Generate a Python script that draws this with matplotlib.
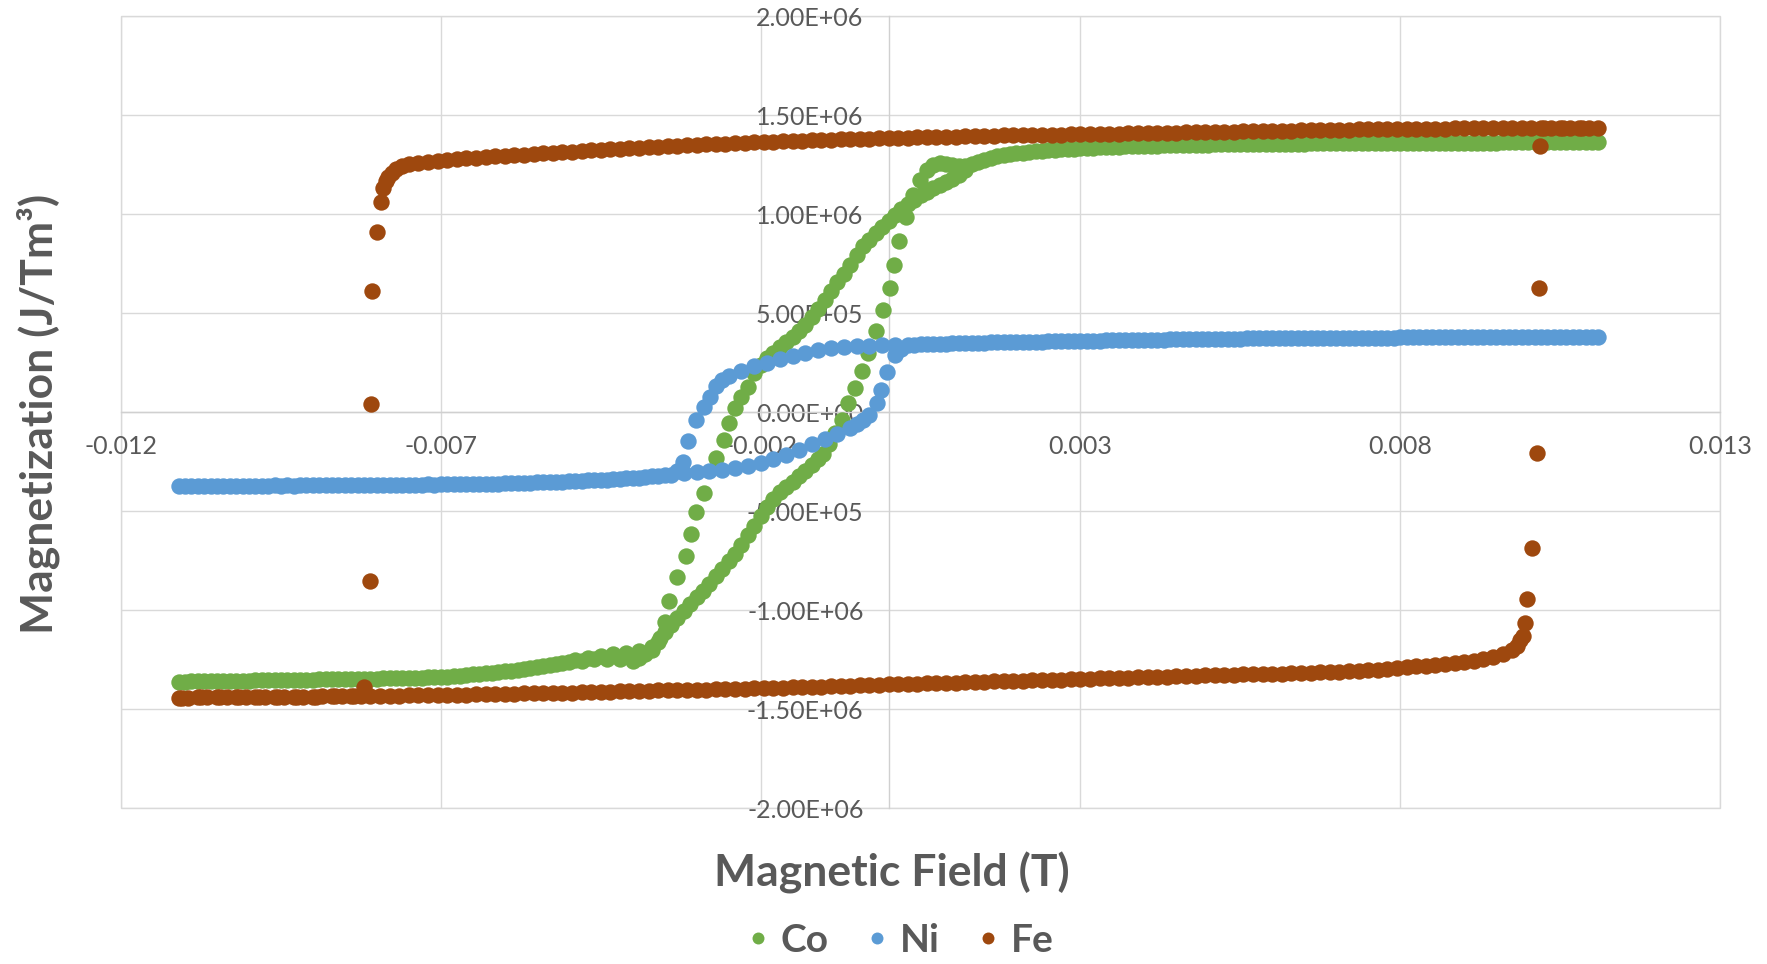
import numpy as np
import matplotlib
matplotlib.use("Agg")
import matplotlib.pyplot as plt
from matplotlib.lines import Line2D
from matplotlib.patches import Rectangle

plt.rcParams['font.family'] = ['Lato', 'DejaVu Sans']

# (field in mT, magnetization in 1e3 J/Tm^3)
co_desc = [
    (11.1, 1365), (10.9, 1365), (10.7, 1364), (10.5, 1364), (10.3, 1364), (10.1, 1363), (9.9, 1363), (9.7, 1363),
    (9.5, 1362), (9.3, 1362), (9.1, 1362), (8.9, 1362), (8.7, 1361), (8.5, 1361), (8.3, 1361), (8.1, 1360),
    (7.9, 1360), (7.7, 1360), (7.5, 1359), (7.3, 1359), (7.1, 1359), (6.9, 1358), (6.7, 1358), (6.5, 1357),
    (6.3, 1357), (6.1, 1356), (5.9, 1356), (5.7, 1355), (5.5, 1354), (5.3, 1353), (5.1, 1353), (4.9, 1352),
    (4.7, 1350), (4.5, 1349), (4.3, 1348), (4.1, 1346), (3.9, 1345), (3.7, 1343), (3.5, 1341), (3.3, 1338),
    (3.1, 1335), (2.9, 1332), (2.7, 1328), (2.5, 1324), (2.3, 1319), (2.1, 1312), (1.9, 1304), (1.7, 1292),
    (1.5, 1275), (1.3, 1252), (1.2, 1222), (1.1, 1197), (1.0, 1180), (0.9, 1165), (0.8, 1148), (0.7, 1132),
    (0.6, 1115), (0.5, 1095), (0.4, 1074), (0.3, 1050), (0.2, 1025), (0.1, 998), (0.0, 965), (-0.1, 935),
    (-0.2, 905), (-0.3, 870), (-0.4, 838), (-0.5, 795), (-0.6, 745), (-0.7, 700), (-0.8, 660), (-0.9, 615),
    (-1.0, 568), (-1.1, 522), (-1.2, 480), (-1.3, 443), (-1.4, 410), (-1.5, 380), (-1.6, 355), (-1.7, 331),
    (-1.8, 300), (-1.9, 272), (-2.0, 240), (-2.1, 200), (-2.19, 129), (-2.3, 79), (-2.4, 20), (-2.49, -52),
    (-2.58, -140), (-2.7, -232), (-2.88, -409), (-3.01, -505), (-3.09, -615), (-3.16, -726), (-3.31, -833),
    (-3.43, -953), (-3.49, -1061), (-3.58, -1140), (-3.7, -1185), (-3.9, -1205), (-4.1, -1215), (-4.3, -1220),
    (-4.5, -1230), (-4.7, -1240), (-4.9, -1250), (-5.1, -1265), (-5.3, -1276), (-5.5, -1287), (-5.7, -1297),
    (-5.9, -1305), (-6.1, -1312), (-6.3, -1318), (-6.5, -1324), (-6.7, -1330), (-6.9, -1335), (-7.1, -1338),
    (-7.3, -1340), (-7.5, -1342), (-7.7, -1343), (-7.9, -1344), (-8.1, -1345), (-8.3, -1346), (-8.5, -1347),
    (-8.7, -1348), (-8.9, -1349), (-9.1, -1350), (-9.3, -1351), (-9.5, -1352), (-9.7, -1353), (-9.9, -1354),
    (-10.1, -1355), (-10.3, -1356), (-10.5, -1357), (-10.7, -1358), (-10.9, -1359), (-11.1, -1361),
]
co_asc = [
    (-11.0, -1360), (-10.8, -1359), (-10.6, -1358), (-10.4, -1357), (-10.2, -1356), (-10.0, -1355), (-9.8, -1354),
    (-9.6, -1353), (-9.4, -1352), (-9.2, -1351), (-9.0, -1350), (-8.8, -1349), (-8.6, -1348), (-8.4, -1347),
    (-8.2, -1346), (-8.0, -1345), (-7.8, -1344), (-7.6, -1343), (-7.4, -1341), (-7.2, -1339), (-7.0, -1337),
    (-6.8, -1333), (-6.6, -1328), (-6.4, -1322), (-6.2, -1316), (-6.0, -1309), (-5.8, -1301), (-5.6, -1292),
    (-5.4, -1282), (-5.2, -1272), (-5.0, -1263), (-4.8, -1255), (-4.6, -1248), (-4.4, -1244), (-4.2, -1248),
    (-4.0, -1254), (-3.9, -1240), (-3.8, -1222), (-3.7, -1198), (-3.6, -1160), (-3.5, -1112), (-3.4, -1075),
    (-3.3, -1040), (-3.2, -1005), (-3.1, -970), (-3.0, -931), (-2.9, -900), (-2.8, -866), (-2.7, -826),
    (-2.6, -790), (-2.5, -752), (-2.4, -715), (-2.3, -668), (-2.2, -620), (-2.1, -572), (-2.0, -525),
    (-1.9, -477), (-1.8, -437), (-1.7, -405), (-1.6, -378), (-1.5, -352), (-1.4, -322), (-1.3, -295),
    (-1.2, -266), (-1.1, -237), (-1.02, -210), (-0.93, -160), (-0.84, -106), (-0.73, -39), (-0.63, 45),
    (-0.52, 121), (-0.42, 210), (-0.32, 298), (-0.2, 411), (-0.09, 517), (0.02, 626), (0.09, 744), (0.17, 867),
    (0.27, 988), (0.39, 1097), (0.49, 1173), (0.6, 1224), (0.7, 1248), (0.8, 1258), (0.9, 1255), (1.0, 1249),
    (1.1, 1244), (1.2, 1242), (1.4, 1262), (1.6, 1285), (1.8, 1299), (2.0, 1309), (2.2, 1316), (2.4, 1322),
    (2.6, 1327), (2.8, 1331), (3.0, 1334), (3.2, 1337), (3.4, 1340), (3.6, 1342), (3.8, 1344), (4.0, 1346),
    (4.2, 1347), (4.4, 1349), (4.6, 1350), (4.8, 1351), (5.0, 1352), (5.2, 1353), (5.4, 1354), (5.6, 1355),
    (5.8, 1355), (6.0, 1356), (6.2, 1357), (6.4, 1357), (6.6, 1358), (6.8, 1358), (7.0, 1359), (7.2, 1359),
    (7.4, 1359), (7.6, 1360), (7.8, 1360), (8.0, 1360), (8.2, 1361), (8.4, 1361), (8.6, 1361), (8.8, 1362),
    (9.0, 1362), (9.2, 1362), (9.4, 1362), (9.6, 1363), (9.8, 1363), (10.0, 1363), (10.2, 1364), (10.4, 1364),
    (10.6, 1364), (10.8, 1365), (11.0, 1365),
]

ni_desc = [
    (11.1, 381), (10.9, 381), (10.7, 381), (10.5, 380), (10.3, 380), (10.1, 380), (9.9, 380), (9.7, 380),
    (9.5, 379), (9.3, 379), (9.1, 379), (8.9, 379), (8.7, 378), (8.5, 378), (8.3, 378), (8.1, 378),
    (7.9, 377), (7.7, 377), (7.5, 377), (7.3, 376), (7.1, 376), (6.9, 376), (6.7, 375), (6.5, 375),
    (6.3, 374), (6.1, 374), (5.9, 373), (5.7, 373), (5.5, 372), (5.3, 371), (5.1, 371), (4.9, 370),
    (4.7, 369), (4.5, 368), (4.3, 367), (4.1, 366), (3.9, 365), (3.7, 364), (3.5, 363), (3.3, 362),
    (3.1, 361), (2.9, 360), (2.7, 359), (2.5, 358), (2.3, 357), (2.1, 355), (1.9, 354), (1.7, 353),
    (1.5, 351), (1.3, 350), (1.1, 348), (0.9, 347), (0.7, 345), (0.5, 344), (0.3, 342), (0.1, 340),
    (-0.1, 338), (-0.3, 336), (-0.5, 333), (-0.7, 330), (-0.9, 325), (-1.1, 316), (-1.3, 300), (-1.5, 285),
    (-1.7, 268), (-1.9, 250), (-2.1, 232), (-2.3, 210), (-2.5, 185), (-2.6, 165), (-2.7, 135), (-2.79, 79),
    (-2.88, 28), (-3.01, -39), (-3.13, -143), (-3.22, -249), (-3.31, -295), (-3.5, -318), (-3.7, -324),
    (-3.9, -330), (-4.1, -334), (-4.3, -338), (-4.5, -341), (-4.7, -344), (-4.9, -347), (-5.1, -350),
    (-5.3, -352), (-5.5, -354), (-5.7, -356), (-5.9, -358), (-6.1, -360), (-6.3, -361), (-6.5, -362),
    (-6.7, -363), (-6.9, -364), (-7.1, -365), (-7.3, -365), (-7.5, -366), (-7.7, -366), (-7.9, -367),
    (-8.1, -367), (-8.3, -368), (-8.5, -368), (-8.7, -369), (-8.9, -369), (-9.1, -369), (-9.3, -370),
    (-9.5, -370), (-9.7, -370), (-9.9, -370), (-10.1, -371), (-10.3, -371), (-10.5, -371), (-10.7, -371),
    (-10.9, -371), (-11.1, -372),
]
ni_asc = [
    (-11.0, -371), (-10.8, -371), (-10.6, -371), (-10.4, -370), (-10.2, -370), (-10.0, -370), (-9.8, -370),
    (-9.6, -369), (-9.4, -369), (-9.2, -369), (-9.0, -368), (-8.8, -368), (-8.6, -368), (-8.4, -367),
    (-8.2, -367), (-8.0, -366), (-7.8, -366), (-7.6, -365), (-7.4, -365), (-7.2, -364), (-7.0, -364),
    (-6.8, -363), (-6.6, -362), (-6.4, -361), (-6.2, -360), (-6.0, -359), (-5.8, -357), (-5.6, -355),
    (-5.4, -353), (-5.2, -351), (-5.0, -349), (-4.8, -346), (-4.6, -343), (-4.4, -340), (-4.2, -336),
    (-4.0, -332), (-3.8, -327), (-3.6, -322), (-3.4, -316), (-3.2, -309), (-3.0, -303), (-2.8, -297),
    (-2.6, -290), (-2.4, -283), (-2.2, -271), (-2.0, -256), (-1.8, -237), (-1.6, -215), (-1.4, -190),
    (-1.2, -162), (-1.0, -135), (-0.8, -108), (-0.6, -80), (-0.5, -58), (-0.4, -38), (-0.3, -15),
    (-0.18, 45), (-0.11, 113), (-0.02, 205), (0.1, 289), (0.2, 320), (0.4, 338), (0.6, 343), (0.8, 346),
    (1.0, 349), (1.2, 350), (1.4, 351), (1.6, 353), (1.8, 354), (2.0, 355), (2.2, 356), (2.4, 357),
    (2.6, 358), (2.8, 360), (3.0, 361), (3.2, 362), (3.4, 363), (3.6, 364), (3.8, 365), (4.0, 366),
    (4.2, 367), (4.4, 368), (4.6, 369), (4.8, 370), (5.0, 371), (5.2, 371), (5.4, 372), (5.6, 373),
    (5.8, 373), (6.0, 374), (6.2, 374), (6.4, 375), (6.6, 375), (6.8, 376), (7.0, 376), (7.2, 376),
    (7.4, 377), (7.6, 377), (7.8, 377), (8.0, 378), (8.2, 378), (8.4, 378), (8.6, 379), (8.8, 379),
    (9.0, 379), (9.2, 379), (9.4, 380), (9.6, 380), (9.8, 380), (10.0, 380), (10.2, 380), (10.4, 381),
    (10.6, 381), (10.8, 381), (11.0, 381),
]

fe_desc = [
    (11.1, 1438), (10.95, 1438), (10.8, 1437), (10.65, 1437), (10.5, 1437), (10.35, 1436), (10.2, 1436),
    (10.05, 1436), (9.9, 1436), (9.75, 1435), (9.6, 1435), (9.45, 1435), (9.3, 1434), (9.15, 1434),
    (9.0, 1434), (8.85, 1434), (8.7, 1433), (8.55, 1433), (8.4, 1432), (8.25, 1432), (8.1, 1431),
    (7.95, 1431), (7.8, 1430), (7.65, 1430), (7.5, 1429), (7.35, 1429), (7.2, 1428), (7.05, 1427),
    (6.9, 1426), (6.75, 1426), (6.6, 1425), (6.45, 1424), (6.3, 1423), (6.15, 1423), (6.0, 1422),
    (5.85, 1421), (5.7, 1420), (5.55, 1419), (5.4, 1418), (5.25, 1418), (5.1, 1417), (4.95, 1416),
    (4.8, 1415), (4.65, 1414), (4.5, 1413), (4.35, 1412), (4.2, 1411), (4.05, 1410), (3.9, 1410),
    (3.75, 1409), (3.6, 1408), (3.45, 1407), (3.3, 1406), (3.15, 1406), (3.0, 1405), (2.85, 1404),
    (2.7, 1403), (2.55, 1402), (2.4, 1401), (2.25, 1400), (2.1, 1400), (1.95, 1399), (1.8, 1398),
    (1.65, 1397), (1.5, 1396), (1.35, 1395), (1.2, 1393), (1.05, 1392), (0.9, 1391), (0.75, 1390),
    (0.6, 1389), (0.45, 1388), (0.3, 1387), (0.15, 1386), (0.0, 1385), (-0.15, 1384), (-0.3, 1382),
    (-0.45, 1381), (-0.6, 1380), (-0.75, 1378), (-0.9, 1377), (-1.05, 1375), (-1.2, 1374), (-1.35, 1372),
    (-1.5, 1370), (-1.65, 1368), (-1.8, 1366), (-1.95, 1365), (-2.1, 1363), (-2.25, 1361), (-2.4, 1359),
    (-2.55, 1357), (-2.7, 1355), (-2.85, 1353), (-3.0, 1351), (-3.15, 1349), (-3.3, 1346), (-3.45, 1344),
    (-3.6, 1342), (-3.75, 1339), (-3.9, 1337), (-4.05, 1334), (-4.2, 1331), (-4.35, 1328), (-4.5, 1326),
    (-4.65, 1323), (-4.8, 1320), (-4.95, 1317), (-5.1, 1314), (-5.25, 1311), (-5.4, 1308), (-5.55, 1305),
    (-5.7, 1302), (-5.85, 1299), (-6.0, 1296), (-6.15, 1293), (-6.3, 1289), (-6.45, 1286), (-6.6, 1282),
    (-6.75, 1278), (-6.9, 1275), (-7.05, 1271), (-7.2, 1266), (-7.35, 1261), (-7.5, 1255), (-7.6, 1246),
    (-7.7, 1228), (-7.77, 1210), (-7.82, 1190), (-7.86, 1170), (-7.9, 1135), (-7.94, 1061), (-7.99, 911),
    (-8.07, 611), (-8.09, 40), (-8.11, -850), (-8.2, -1386), (-8.35, -1434), (-8.65, -1435), (-8.95, -1436),
    (-9.25, -1437), (-9.55, -1438), (-9.85, -1439), (-10.15, -1439), (-10.45, -1440), (-10.75, -1440),
    (-11.05, -1441),
]
fe_asc = [
    (-11.1, -1441), (-10.95, -1441), (-10.8, -1440), (-10.65, -1440), (-10.5, -1440), (-10.35, -1439),
    (-10.2, -1439), (-10.05, -1439), (-9.9, -1438), (-9.75, -1438), (-9.6, -1438), (-9.45, -1437),
    (-9.3, -1437), (-9.15, -1436), (-9.0, -1436), (-8.85, -1435), (-8.7, -1435), (-8.55, -1434),
    (-8.4, -1434), (-8.25, -1433), (-8.1, -1432), (-7.95, -1432), (-7.8, -1431), (-7.65, -1431),
    (-7.5, -1430), (-7.35, -1429), (-7.2, -1429), (-7.05, -1428), (-6.9, -1427), (-6.75, -1426),
    (-6.6, -1426), (-6.45, -1425), (-6.3, -1424), (-6.15, -1423), (-6.0, -1422), (-5.85, -1421),
    (-5.7, -1420), (-5.55, -1419), (-5.4, -1419), (-5.25, -1418), (-5.1, -1417), (-4.95, -1416),
    (-4.8, -1414), (-4.65, -1413), (-4.5, -1412), (-4.35, -1411), (-4.2, -1410), (-4.05, -1408),
    (-3.9, -1407), (-3.75, -1406), (-3.6, -1405), (-3.45, -1404), (-3.3, -1403), (-3.15, -1402),
    (-3.0, -1401), (-2.85, -1400), (-2.7, -1398), (-2.55, -1397), (-2.4, -1396), (-2.25, -1395),
    (-2.1, -1394), (-1.95, -1393), (-1.8, -1391), (-1.65, -1390), (-1.5, -1389), (-1.35, -1387),
    (-1.2, -1386), (-1.05, -1385), (-0.9, -1383), (-0.75, -1382), (-0.6, -1380), (-0.45, -1379),
    (-0.3, -1377), (-0.15, -1376), (0.0, -1374), (0.15, -1373), (0.3, -1371), (0.45, -1370),
    (0.6, -1369), (0.75, -1367), (0.9, -1366), (1.05, -1365), (1.2, -1363), (1.35, -1362),
    (1.5, -1360), (1.65, -1359), (1.8, -1358), (1.95, -1356), (2.1, -1355), (2.25, -1354),
    (2.4, -1352), (2.55, -1351), (2.7, -1350), (2.85, -1348), (3.0, -1347), (3.15, -1346),
    (3.3, -1344), (3.45, -1343), (3.6, -1342), (3.75, -1340), (3.9, -1339), (4.05, -1338),
    (4.2, -1336), (4.35, -1335), (4.5, -1333), (4.65, -1332), (4.8, -1331), (4.95, -1329),
    (5.1, -1328), (5.25, -1327), (5.4, -1326), (5.55, -1324), (5.7, -1323), (5.85, -1322),
    (6.0, -1321), (6.15, -1320), (6.3, -1318), (6.45, -1317), (6.6, -1315), (6.75, -1314),
    (6.9, -1312), (7.05, -1310), (7.2, -1308), (7.35, -1306), (7.5, -1303), (7.65, -1299),
    (7.8, -1295), (7.95, -1291), (8.1, -1287), (8.25, -1283), (8.4, -1279), (8.55, -1275),
    (8.7, -1270), (8.85, -1265), (9.0, -1260), (9.15, -1254), (9.3, -1247), (9.45, -1238),
    (9.6, -1223), (9.75, -1200), (9.82, -1178), (9.87, -1152), (9.92, -1130), (9.95, -1063),
    (9.98, -941), (10.06, -687), (10.14, -207), (10.17, 629), (10.19, 1346), (10.25, 1436),
    (10.55, 1437), (10.85, 1437),
]

series_names = ["Co", "Ni", "Fe"]
series_colors = ["#70AD47", "#5B9BD5", "#9E480E"]
series_data = [co_desc + co_asc, ni_desc + ni_asc, fe_desc + fe_asc]

x_ticks = [-0.012, -0.007, -0.002, 0.003, 0.008, 0.013]
x_labels = ["-0.012", "-0.007", "-0.002", "0.003", "0.008", "0.013"]
y_ticks = [-2.0e6, -1.5e6, -1.0e6, -0.5e6, 0.0, 0.5e6, 1.0e6, 1.5e6, 2.0e6]
y_labels = ["-2.00E+06", "-1.50E+06", "-1.00E+06", "-5.00E+05", "0.00E+00",
            "5.00E+05", "1.00E+06", "1.50E+06", "2.00E+06"]

text_gray = "#595959"
grid_gray = "#D9D9D9"

W, H = 1767, 964
fig = plt.figure(figsize=(W / 100, H / 100), dpi=100)
ax = fig.add_axes([121 / W, 1 - 808.3 / H, (1720 - 121) / W, (808.3 - 16.3) / H])

for name, color, pts in zip(series_names, series_colors, series_data):
    field_mT, mag_k = zip(*pts)
    field = np.array(field_mT) / 1000.0
    mag = np.array(mag_k) * 1000.0
    ax.plot(field, mag, linestyle="none", marker="o", markersize=11.8,
            markeredgewidth=0, color=color, zorder=3)

ax.set_xlim(-0.012, 0.013)
ax.set_ylim(-2.0e6, 2.0e6)
ax.set_xticks(x_ticks)
ax.set_xticklabels(x_labels)
ax.set_yticks(y_ticks)
ax.set_yticklabels(y_labels)

ax.set_axisbelow(True)
ax.grid(True, color=grid_gray, linewidth=1.0)
for side in ["top", "right"]:
    ax.spines[side].set_visible(False)
ax.spines["left"].set_position(("data", 0))
ax.spines["bottom"].set_position(("data", 0))
for side in ["left", "bottom"]:
    ax.spines[side].set_color("#D0D0D0")
    ax.spines[side].set_linewidth(1.0)
    ax.spines[side].set_zorder(0.6)
ax.add_patch(Rectangle((0, 0), 1, 1, transform=ax.transAxes, fill=False,
                       edgecolor=grid_gray, linewidth=1.0, clip_on=False, zorder=0.5))

ax.tick_params(axis="both", length=0, labelsize=18, labelcolor=text_gray)
ax.tick_params(axis="x", pad=16)
ax.tick_params(axis="y", pad=18)

fig.text(891.5 / W, 1 - 886.7 / H, "Magnetic Field (T)", ha="center", va="baseline",
         fontsize=32, fontweight="bold", color=text_gray)
fig.text(38 / W, 1 - 414 / H, "Magnetization (J/Tm³)", ha="center", va="center",
         rotation=90, fontsize=32, fontweight="bold", color=text_gray)

handles = [Line2D([], [], linestyle="none", marker="o", markersize=8.6,
                  markeredgewidth=0, color=c) for c in series_colors]
fig.legend(handles, series_names, loc="center", bbox_to_anchor=(900 / W, 1 - 940 / H),
           ncol=3, frameon=False, handlelength=0.6, handletextpad=0.28, columnspacing=0.95,
           prop={"weight": "bold", "size": 28}, labelcolor=text_gray)

fig.savefig("out.png", dpi=100)
